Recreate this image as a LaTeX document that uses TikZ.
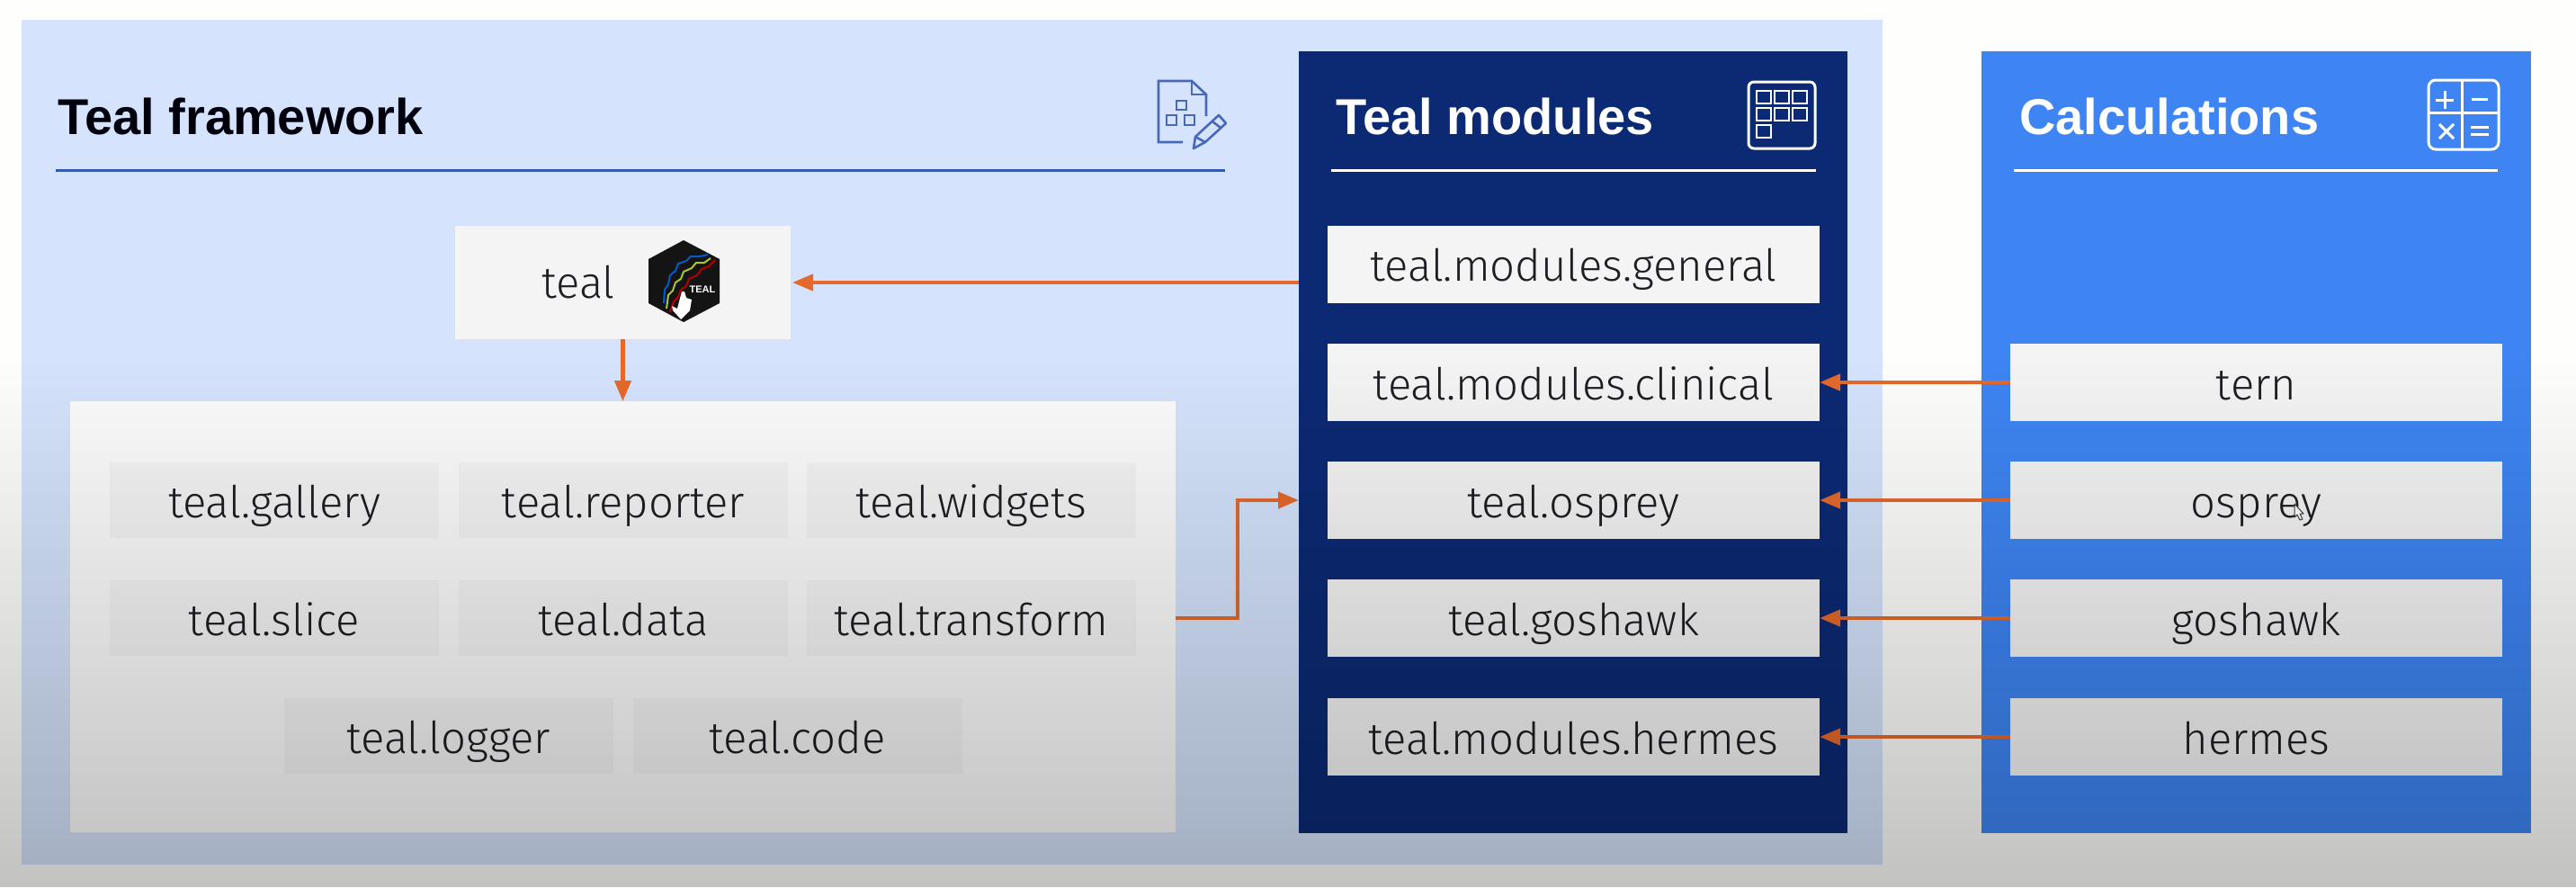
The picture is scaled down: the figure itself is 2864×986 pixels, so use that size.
\documentclass[tikz,border=0pt]{standalone}
\usepackage{fontspec}
\setmainfont{Fira Sans Light}
\newfontfamily\titlefont{Liberation Sans}[BoldFont={Liberation Sans Bold}]
\usetikzlibrary{arrows.meta,calc}
\definecolor{pagebg}{HTML}{FEFEFC}
\definecolor{fwpanel}{HTML}{D5E4FC}
\definecolor{modpanel}{HTML}{0C2A74}
\definecolor{calcpanel}{HTML}{3E85F3}
\definecolor{lightbox}{HTML}{F4F4F4}
\definecolor{holder}{HTML}{FCFCFC}
\definecolor{itembox}{HTML}{F5F5F5}
\definecolor{orangeline}{HTML}{E5692B}
\definecolor{ruleblue}{HTML}{3558B0}
\definecolor{textdark}{HTML}{1E1E24}
\tikzset{
  x=1pt,y=-1pt,
  panel/.style={inner sep=0pt,outer sep=0pt,anchor=north west},
  labelbox/.style={fill=lightbox,inner sep=0pt,outer sep=0pt,minimum width=547pt,minimum height=86pt,
     text=textdark,font=\fontsize{49}{51}\selectfont,text height=40pt,text depth=2pt},
  itemnode/.style={labelbox,fill=itembox,minimum width=366pt,minimum height=84.5pt},
  titlelabel/.style={anchor=base west,inner sep=0pt,font=\titlefont\bfseries\fontsize{56}{58}\selectfont},
  flow/.style={draw=orangeline,line width=4.4pt,-{Triangle[length=23pt,width=18pt]}},
  rulefw/.style={line width=3pt,draw=ruleblue},
  rulew/.style={line width=3pt,draw=white},
  iconblue/.style={draw=ruleblue!90!white,line width=2.6pt},
  iconwhite/.style={draw=white,line width=3pt},
}
\begin{document}
\begin{tikzpicture}
\useasboundingbox (0,0) rectangle (2864,986);
\fill[pagebg] (0,0) rectangle (2864,986);
% panels
\node[panel,fill=fwpanel,minimum width=2069pt,minimum height=939pt] (fw) at (24,22) {};
\node[panel,fill=modpanel,minimum width=610pt,minimum height=869pt] (mods) at (1444,57) {};
\node[panel,fill=calcpanel,minimum width=611pt,minimum height=869pt] (calc) at (2203,57) {};
\node[panel,fill=holder,minimum width=1229pt,minimum height=479pt] (holderbox) at (78,446) {};
% titles
\node[titlelabel,text=black!95!blue] (t1) at (64,149) {Teal framework};
\node[titlelabel,text=white] (t2) at (1485,149) {Teal modules};
\node[titlelabel,text=white] (t3) at (2245,149) {Calculations};
\draw[rulefw] (62,189) -- (1362,189);
\draw[rulew] (1480,189) -- (2019,189);
\draw[rulew] (2239,189) -- (2777,189);
% teal box
\node[labelbox,minimum width=373pt,minimum height=126pt] (tealbox) at (692.5,314) {};
\node[inner sep=0pt,text=textdark,font=\fontsize{49}{51}\selectfont,anchor=base] (teallabel) at (643,331) {teal};
% hex logo
\fill[black!92] (760,267) -- (800,288) -- (800,337) -- (760,358) -- (721,337) -- (721,288) -- cycle;
\draw[line width=2pt,draw=blue!55!cyan!80!black,line join=round] (738,337) -- (739,322) -- (743,316) -- (745,306) -- (751,301) -- (754,293) -- (763,290) -- (768,285) -- (778,285) -- (787,283);
\draw[line width=2pt,draw=yellow!75!green!85!black,line join=round] (741,343) -- (743,328) -- (748,323) -- (751,314) -- (757,310) -- (760,302) -- (769,298) -- (774,292) -- (783,292) -- (790,287);
\draw[line width=2pt,draw=red!70!black,line join=round] (745,347) -- (749,335) -- (754,330) -- (757,322) -- (763,318) -- (766,310) -- (775,306) -- (780,299) -- (788,296) -- (795,289);
\node[inner sep=0pt,text=white,font=\titlefont\bfseries\fontsize{11}{12}\selectfont] (logotext) at (781,322) {TEAL};
\fill[white] (758,324) -- (761,324) -- (763,331) -- (769,333) -- (767,345) -- (757,355) -- (748,345) -- (747,340) -- (753,343) -- cycle;
% document icon
\draw[iconblue] (1315,158) -- (1288,158) -- (1288,90) -- (1325,90) -- (1341,105) -- (1341,129);
\draw[iconblue] (1325,90) -- (1325,105) -- (1341,105);
\draw[iconblue] (1308,112) rectangle (1319,122);
\draw[iconblue] (1297,128) rectangle (1308,139);
\draw[iconblue] (1317,128) rectangle (1328,139);
\draw[iconblue,line join=round] (1327,165) -- (1329,152) -- (1355,128) -- (1363,137) -- (1340,158) -- cycle;
\draw[iconblue] (1329,152) -- (1340,158);
\draw[iconblue] (1348,135) -- (1357,142);
% grid icon
\draw[iconwhite,rounded corners=6pt] (1944,91) rectangle (2018,165);
\foreach \gx/\gy in {1953/101,1973/101,1993/101,1953/120,1973/120,1993/120,1953/139}
  \draw[iconwhite,line width=2.6pt] (\gx,\gy) rectangle ++(16,14);
% calc icon
\draw[iconwhite,rounded corners=8pt] (2700,89) rectangle (2778,166);
\draw[iconwhite] (2737,89) -- (2737,166);
\draw[iconwhite] (2700,125) -- (2778,125);
\draw[iconwhite] (2708,111) -- (2728,111);
\draw[iconwhite] (2718,101) -- (2718,121);
\draw[iconwhite] (2748,110) -- (2766,110);
\draw[iconwhite] (2712,138) -- (2728,154);
\draw[iconwhite] (2728,138) -- (2712,154);
\draw[iconwhite] (2747,141) -- (2767,141);
\draw[iconwhite] (2747,149) -- (2767,149);
% module boxes
\node[labelbox] (general) at (1749.5,293.5) {teal.modules.general};
\node[labelbox] (clinical) at (1749.5,425) {teal.modules.clinical};
\node[labelbox] (tosprey) at (1749.5,556) {teal.osprey};
\node[labelbox] (tgoshawk) at (1749.5,687) {teal.goshawk};
\node[labelbox] (thermes) at (1749.5,819) {teal.modules.hermes};
% calculation boxes
\node[labelbox] (tern) at (2508.5,425) {tern};
\node[labelbox] (osprey) at (2508.5,556) {osprey};
\node[labelbox] (goshawk) at (2508.5,687) {goshawk};
\node[labelbox] (hermes) at (2508.5,819) {hermes};
% items
\node[itemnode] (gallery) at (305,556) {teal.gallery};
\node[itemnode] (reporter) at (693,556) {teal.reporter};
\node[itemnode] (widgets) at (1080,556) {teal.widgets};
\node[itemnode] (slice) at (305,687) {teal.slice};
\node[itemnode] (data) at (693,687) {teal.data};
\node[itemnode] (transform) at (1080,687) {teal.transform};
\node[itemnode] (logger) at (498.5,818) {teal.logger};
\node[itemnode] (code) at (886.5,818) {teal.code};
% connectors
\draw[flow,shorten >=2pt] (mods.west |- tealbox) -- (tealbox.east);
\draw[flow] (tealbox.south) -- (holderbox.north -| tealbox.south);
\draw[flow] (holderbox.east |- transform) -- (1376,687) -- (1376,556) -- (mods.west |- tosprey);
\draw[flow] (tern.west) -- (clinical.east);
\draw[flow] (osprey.west) -- (tosprey.east);
\draw[flow] (goshawk.west) -- (tgoshawk.east);
\draw[flow] (hermes.west) -- (thermes.east);
% mouse pointer
\draw[black!75,fill=white,line width=1pt,line join=round] (2551,560) -- (2551,575) -- (2554,572) -- (2557,578) -- (2560,577) -- (2557,571) -- (2561,571) -- cycle;
% video darkening: narrow bands of growing opacity
\foreach \band in {0,...,98} {
  \pgfmathsetmacro{\bandop}{0.235*(\band+0.5)/99}
  \pgfmathsetmacro{\bandtop}{392+6*\band}
  \fill[black,fill opacity=\bandop] (0,\bandtop) rectangle (2864,\bandtop+6);
}
\end{tikzpicture}
\end{document}
